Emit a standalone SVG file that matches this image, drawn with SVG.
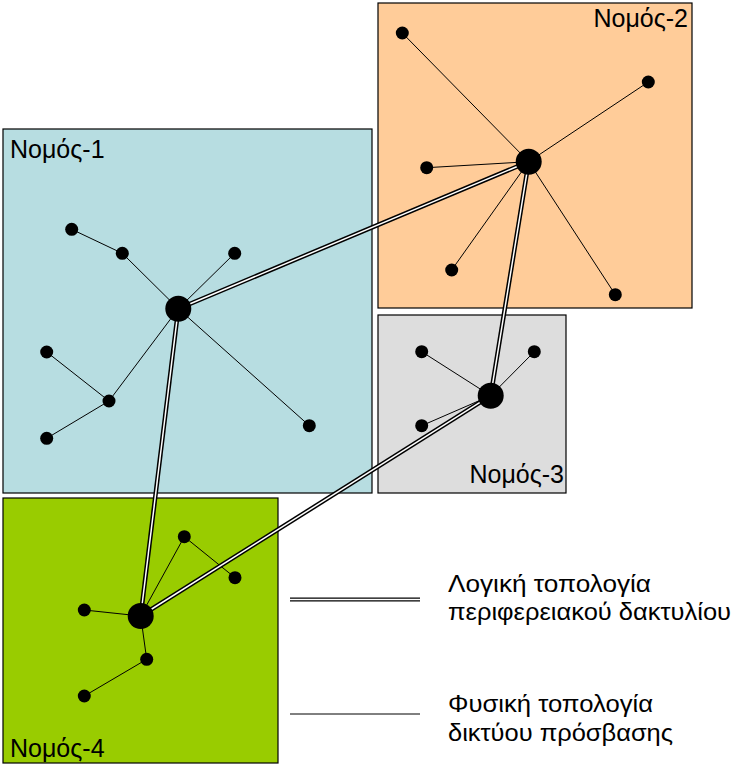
<svg xmlns="http://www.w3.org/2000/svg" width="738" height="767" viewBox="0 0 738 767">
<style>
.box{stroke:#000;stroke-width:1.2}
.lbl{font-family:"Liberation Sans",Arial,sans-serif;font-size:25px;fill:#000}
.leg{font-family:"Liberation Sans",Arial,sans-serif;font-size:24px;fill:#000}
.thin{stroke:#000;stroke-width:1;fill:none}
.dblo{stroke:#000;stroke-width:4.5;fill:none}
.dbli{stroke:#fff;stroke-width:1.5;fill:none}
.leaf{fill:#000}
.hub{fill:#000}
</style>
<rect width="738" height="767" fill="#fff"/>
<g id="nomos-2">
<rect class="box" x="378" y="3" width="314" height="305" fill="#FFCC99"/>
<text class="lbl" x="688" y="27" text-anchor="end">Νομός-2</text>
</g>
<g id="nomos-1">
<rect class="box" x="3" y="129" width="369" height="364" fill="#B7DDE1"/>
<text class="lbl" x="10" y="158">Νομός-1</text>
</g>
<g id="nomos-3">
<rect class="box" x="378" y="315" width="188" height="178" fill="#DDDDDD"/>
<text class="lbl" x="564" y="483" text-anchor="end">Νομός-3</text>
</g>
<g id="nomos-4">
<rect class="box" x="3" y="498" width="275" height="265" fill="#99CC00"/>
<text class="lbl" x="10" y="757">Νομός-4</text>
</g>
<g id="connectors">
<g class="thin">
<line x1="528.7" y1="161.7" x2="402.3" y2="33"/>
<line x1="528.7" y1="161.7" x2="648.3" y2="82"/>
<line x1="528.7" y1="161.7" x2="426.7" y2="167.7"/>
<line x1="528.7" y1="161.7" x2="451.7" y2="270"/>
<line x1="528.7" y1="161.7" x2="615.3" y2="294.7"/>
<line x1="178.3" y1="308.7" x2="122.3" y2="253.3"/>
<line x1="122.3" y1="253.3" x2="71.7" y2="229.3"/>
<line x1="178.3" y1="308.7" x2="234.7" y2="253.3"/>
<line x1="178.3" y1="308.7" x2="109" y2="401"/>
<line x1="109" y1="401" x2="46.7" y2="352"/>
<line x1="109" y1="401" x2="46.7" y2="438.3"/>
<line x1="178.3" y1="308.7" x2="309.3" y2="425.7"/>
<line x1="490.7" y1="395.7" x2="421.7" y2="351.7"/>
<line x1="490.7" y1="395.7" x2="534.3" y2="351.7"/>
<line x1="490.7" y1="395.7" x2="421.7" y2="425.7"/>
<line x1="140.7" y1="616" x2="184.3" y2="536.7"/>
<line x1="184.3" y1="536.7" x2="235" y2="577.7"/>
<line x1="140.7" y1="616" x2="84.3" y2="610"/>
<line x1="140.7" y1="616" x2="146.7" y2="659.3"/>
<line x1="146.7" y1="659.3" x2="84.3" y2="696"/>
</g>
<g class="dblo">
<line x1="178.3" y1="308.7" x2="528.7" y2="161.7"/>
<line x1="528.7" y1="161.7" x2="490.7" y2="395.7"/>
<line x1="490.7" y1="395.7" x2="140.7" y2="616"/>
<line x1="140.7" y1="616" x2="178.3" y2="308.7"/>
</g>
<g class="dbli">
<line x1="178.3" y1="308.7" x2="528.7" y2="161.7"/>
<line x1="528.7" y1="161.7" x2="490.7" y2="395.7"/>
<line x1="490.7" y1="395.7" x2="140.7" y2="616"/>
<line x1="140.7" y1="616" x2="178.3" y2="308.7"/>
</g>
</g>
<g id="nodes-2">
<circle class="hub" cx="528.7" cy="161.7" r="13"/>
<circle class="leaf" cx="402.3" cy="33" r="6.5"/>
<circle class="leaf" cx="648.3" cy="82" r="6.5"/>
<circle class="leaf" cx="426.7" cy="167.7" r="6.5"/>
<circle class="leaf" cx="451.7" cy="270" r="6.5"/>
<circle class="leaf" cx="615.3" cy="294.7" r="6.5"/>
</g>
<g id="nodes-1">
<circle class="hub" cx="178.3" cy="308.7" r="13"/>
<circle class="leaf" cx="71.7" cy="229.3" r="6.5"/>
<circle class="leaf" cx="122.3" cy="253.3" r="6.5"/>
<circle class="leaf" cx="234.7" cy="253.3" r="6.5"/>
<circle class="leaf" cx="46.7" cy="352" r="6.5"/>
<circle class="leaf" cx="109" cy="401" r="6.5"/>
<circle class="leaf" cx="46.7" cy="438.3" r="6.5"/>
<circle class="leaf" cx="309.3" cy="425.7" r="6.5"/>
</g>
<g id="nodes-3">
<circle class="hub" cx="490.7" cy="395.7" r="13"/>
<circle class="leaf" cx="421.7" cy="351.7" r="6.5"/>
<circle class="leaf" cx="534.3" cy="351.7" r="6.5"/>
<circle class="leaf" cx="421.7" cy="425.7" r="6.5"/>
</g>
<g id="nodes-4">
<circle class="hub" cx="140.7" cy="616" r="13"/>
<circle class="leaf" cx="184.3" cy="536.7" r="6.5"/>
<circle class="leaf" cx="235" cy="577.7" r="6.5"/>
<circle class="leaf" cx="84.3" cy="610" r="6.5"/>
<circle class="leaf" cx="146.7" cy="659.3" r="6.5"/>
<circle class="leaf" cx="84.3" cy="696" r="6.5"/>
</g>
<g id="legend">
<line class="dblo" x1="290" y1="599.5" x2="420" y2="599.5" style="stroke-width:4"/>
<line class="dbli" x1="290" y1="599.5" x2="420" y2="599.5" style="stroke-width:1.3"/>
<line class="thin" x1="290" y1="714" x2="420" y2="714"/>
<text class="leg" x="448" y="592" textLength="203" lengthAdjust="spacingAndGlyphs">Λογική τοπολογία</text>
<text class="leg" x="448" y="620" textLength="283" lengthAdjust="spacingAndGlyphs">περιφερειακού δακτυλίου</text>
<text class="leg" x="448" y="712" textLength="205" lengthAdjust="spacingAndGlyphs">Φυσική τοπολογία</text>
<text class="leg" x="448" y="741" textLength="225" lengthAdjust="spacingAndGlyphs">δικτύου πρόσβασης</text>
</g>
</svg>
